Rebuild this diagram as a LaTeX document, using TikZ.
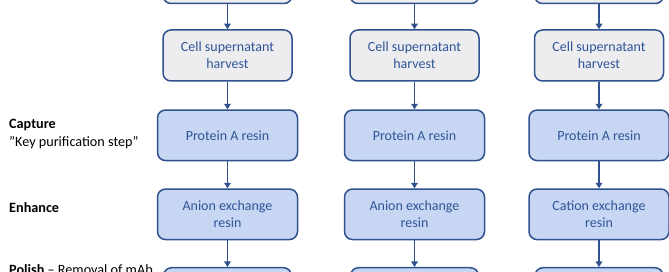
\documentclass[tikz,border=0pt]{standalone}
\usepackage{fontspec}
\setmainfont{Carlito}
\usetikzlibrary{arrows.meta,positioning}
\definecolor{edgeblue}{HTML}{2F528F}
\definecolor{txtblue}{HTML}{2F5597}
\definecolor{grayfill}{HTML}{EDEDF0}
\definecolor{bluefill}{HTML}{C7D6F2}
\tikzset{
  x=1pt,y=-1pt,
  boxbase/.style={draw=edgeblue,line width=1.5pt,rounded corners=8pt,align=center,
    text=txtblue,font=\fontsize{14}{17}\selectfont,inner sep=0pt},
  graybox/.style={boxbase,fill=grayfill,minimum width=129pt,minimum height=51pt},
  bluebox/.style={boxbase,fill=bluefill,minimum width=140pt,minimum height=50.5pt},
  flow/.style={draw=edgeblue,line width=1.7pt,-{Triangle[length=5.5pt,width=6.5pt]}},
  lbl/.style={anchor=west,inner sep=0pt,font=\fontsize{14.2}{17}\selectfont,text=black}
}
\begin{document}
\begin{tikzpicture}
\useasboundingbox (0,0) rectangle (669,272);
\clip (0,0) rectangle (669,272);
\fill[white] (0,0) rectangle (669,272);
\foreach \i/\cx/\txt in {1/227.5/Anion exchange\\resin, 2/414.5/Anion exchange\\resin, 3/599/Cation exchange\\resin}{
  \node[graybox] (t\i) at (\cx,-22) {};
  \node[graybox] (h\i) at (\cx,55.5) {Cell supernatant\\harvest};
  \node[bluebox] (p\i) at (\cx,135.3) {Protein A resin};
  \node[bluebox] (e\i) at (\cx,214.3) {\txt};
  \node[bluebox,minimum width=128pt] (b\i) at (\cx,293) {};
  \draw[flow] (t\i.south) -- (h\i.north);
  \draw[flow] (h\i.south) -- (p\i.north);
  \draw[flow] (p\i.south) -- (e\i.north);
  \draw[flow] (e\i.south) -- (b\i.north);
}
\node[lbl] (cap) at (9,125) {\textbf{Capture}};
\node[lbl] (key) at (9,142.7) {”Key purification step”};
\node[lbl] (enh) at (9,207.3) {\textbf{Enhance}};
\node[lbl] (pol) at (9,269.5) {\textbf{Polish} – Removal of mAb};
\end{tikzpicture}
\end{document}
